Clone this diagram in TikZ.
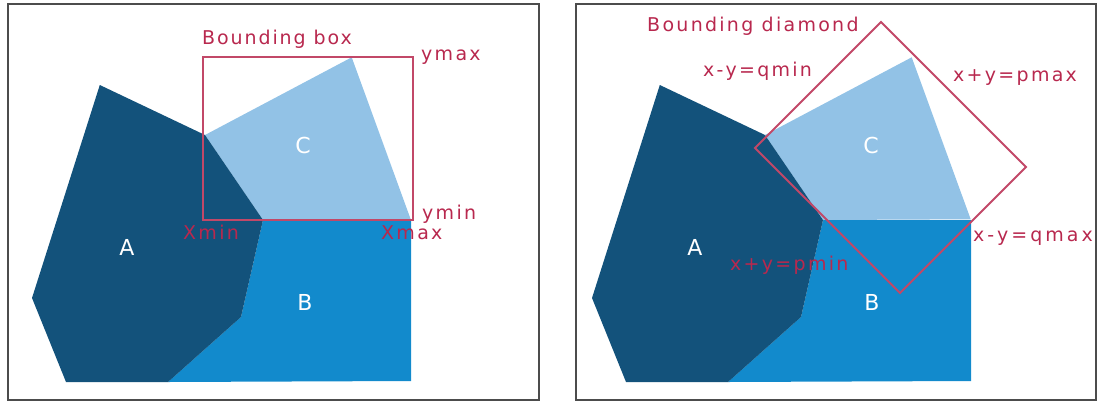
\documentclass[tikz,border=0pt]{standalone}
\usepackage{fontspec}
\newfontfamily\lblfont[LetterSpace=12]{DejaVu Sans}
\newfontfamily\lblnarrow[LetterSpace=10]{DejaVu Sans}
\newfontfamily\lblwide[LetterSpace=16]{DejaVu Sans}
\newfontfamily\regfont{DejaVu Sans}
\definecolor{darkA}{RGB}{19,82,123}
\definecolor{midB}{RGB}{18,138,204}
\definecolor{lightC}{RGB}{146,194,230}
\definecolor{crim}{RGB}{184,40,78}
\definecolor{boxline}{RGB}{194,72,104}
\begin{document}
\begin{tikzpicture}[x=1pt,y=-1pt,
  lbl/.style={text=crim, font=\lblfont\fontsize{19}{22}\selectfont, inner sep=0pt, anchor=base west},
  lbln/.style={lbl, font=\lblnarrow\fontsize{19}{22}\selectfont},
  lblw/.style={lbl, font=\lblwide\fontsize{19}{22}\selectfont},
  abc/.style={text=white, font=\regfont\fontsize{22}{24}\selectfont, inner sep=0pt},
  panel/.style={draw=black!70, line width=1.6pt},
  bound/.style={draw=boxline, line width=1.8pt, line join=miter}]
\useasboundingbox (0,0) rectangle (1099,402);
% panels
\draw[panel] (8,4) rectangle (539,400);
\draw[panel] (576,4) rectangle (1096,400);
% left panel shapes
\fill[midB] (168,382) -- (241,317) -- (263,220) -- (411,220) -- (411,381) -- cycle;
\fill[lightC] (205,135) -- (351.7,57.3) -- (410.7,219.3) -- (263,220) -- cycle;
\fill[darkA] (99.8,85) -- (205,135) -- (263,220) -- (241,317) -- (168,382) -- (66,382) -- (32,298) -- cycle;
% right panel shapes
\begin{scope}[xshift=560pt]
\fill[midB] (168,382) -- (241,317) -- (263,220) -- (411,220) -- (411,381) -- cycle;
\fill[lightC] (205,135) -- (351.7,57.3) -- (410.7,219.3) -- (263,220) -- cycle;
\fill[darkA] (99.8,85) -- (205,135) -- (263,220) -- (241,317) -- (168,382) -- (66,382) -- (32,298) -- cycle;
\end{scope}
% bounding box
\draw[bound] (203,57) rectangle (413,220);
% bounding diamond
\draw[bound] (881,22) -- (1026,167) -- (900,293) -- (755,148) -- cycle;
% region labels
\node[abc] (la) at (127,247) {A};
\node[abc] (lb) at (305,302) {B};
\node[abc] (lc) at (303,145) {C};
\node[abc] (ra) at (695,247) {A};
\node[abc] (rb) at (872,302) {B};
\node[abc] (rc) at (871,145) {C};
% left labels
\node[lbln] (bbox) at (202,44) {Bounding box};
\node[lbl] (ymax) at (421,60) {ymax};
\node[lbl] (ymin) at (422,219.5) {ymin};
\node[lbl] (xmin) at (183,239) {Xmin};
\node[lbl] (xmax) at (381,239) {Xmax};
% right labels
\node[lbl] (bdia) at (647,31) {Bounding diamond};
\node[lbl] (qmin) at (703,76) {x-y=qmin};
\node[lbl] (pmax) at (953,81) {x+y=pmax};
\node[lblw] (qmax) at (973,241) {x-y=qmax};
\node[lbl] (pmin) at (730,270) {x+y=pmin};
\end{tikzpicture}
\end{document}
